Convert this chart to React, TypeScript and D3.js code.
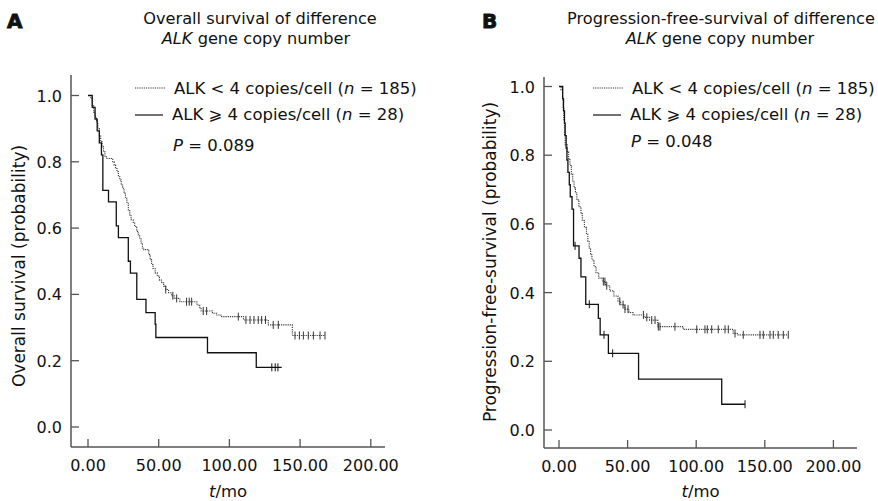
import * as d3 from "d3";

const xTicks = [0, 50, 100, 150, 200];
const yTicks = [0, 0.2, 0.4, 0.6, 0.8, 1.0];

// A: overall survival, ALK < 4 copies/cell (n = 185)
const osLowTime = [0, 2, 3, 4, 5, 6, 7, 8, 9, 10, 11, 12, 13, 17.5, 18.5, 19.5, 20.5, 21.5, 22.5, 23.5, 24.5, 25.5, 26.5, 27.5, 28.5, 29.5, 30.5, 32, 33, 34.5, 35.5, 36.5, 37.5, 38.5, 39.5, 43, 44, 45, 46, 47.5, 49, 50.5, 52, 53.5, 55, 57, 59, 61, 65, 77, 79, 80, 88, 91, 94, 110, 127.5, 144.5];
const osLowSurv = [1, 0.99, 0.97, 0.95, 0.935, 0.92, 0.9, 0.88, 0.86, 0.845, 0.83, 0.815, 0.81, 0.8, 0.79, 0.78, 0.77, 0.755, 0.745, 0.73, 0.72, 0.705, 0.69, 0.675, 0.655, 0.64, 0.625, 0.615, 0.605, 0.59, 0.58, 0.57, 0.555, 0.54, 0.535, 0.52, 0.505, 0.49, 0.478, 0.465, 0.455, 0.443, 0.435, 0.425, 0.415, 0.405, 0.396, 0.388, 0.378, 0.368, 0.36, 0.35, 0.343, 0.338, 0.333, 0.323, 0.308, 0.276];
const osLowEnd = 167.6;
const osLowCensor = [55, 60, 62.7, 69.7, 71.6, 73.3, 81.5, 83.9, 106.3, 111.7, 114.6, 117.4, 120.4, 122.8, 125.5, 131, 134.6, 146.4, 149.5, 152.3, 155.8, 159.4, 164.1, 167.6];

// A: overall survival, ALK >= 4 copies/cell (n = 28)
const osHighTime = [0, 3, 5, 6.5, 8, 9.5, 10.5, 14.5, 20, 21.5, 28.5, 30, 34.5, 41, 47.5, 48, 84.5, 119];
const osHighSurv = [1, 0.964, 0.929, 0.893, 0.857, 0.821, 0.714, 0.679, 0.607, 0.571, 0.5, 0.464, 0.385, 0.345, 0.31, 0.27, 0.224, 0.18];
const osHighEnd = 137;
const osHighCensor = [130, 132.4, 134.3];

// B: progression-free survival, ALK < 4 copies/cell (n = 185)
const pfsLowTime = [0, 1.5, 2.5, 3, 3.5, 4, 4.5, 6, 7, 8, 9, 10, 11, 12, 13, 14.5, 16, 17, 18.5, 20, 21, 22, 23, 24, 25.5, 27, 29, 32, 34, 37, 40, 43, 45, 48, 51, 54, 62, 66, 72, 90.5, 127, 130];
const pfsLowSurv = [1, 0.99, 0.97, 0.94, 0.9, 0.86, 0.83, 0.81, 0.79, 0.77, 0.745, 0.725, 0.705, 0.69, 0.67, 0.65, 0.63, 0.61, 0.59, 0.57, 0.55, 0.53, 0.51, 0.495, 0.476, 0.458, 0.442, 0.432, 0.42, 0.405, 0.39, 0.375, 0.365, 0.352, 0.342, 0.335, 0.328, 0.32, 0.301, 0.293, 0.281, 0.277];
const pfsLowEnd = 167.1;
const pfsLowCensor = [32.3, 33.5, 34.8, 44.3, 46.7, 48.1, 50.3, 61.5, 64, 67.6, 70, 72.4, 73.6, 84.5, 100.4, 106.4, 108.1, 111.3, 116.1, 121, 123.4, 128.3, 134.3, 146.5, 148.9, 153.8, 156.2, 159.8, 163.5, 167.1];

// B: progression-free survival, ALK >= 4 copies/cell (n = 28)
const pfsHighTime = [0, 2.7, 3.3, 4, 4.5, 5.2, 5.8, 6.5, 7.5, 8.2, 9.5, 10.6, 14.6, 16, 19.5, 28.7, 30, 36, 58, 118.6];
const pfsHighSurv = [1, 0.964, 0.929, 0.893, 0.857, 0.821, 0.786, 0.75, 0.714, 0.679, 0.643, 0.536, 0.5, 0.446, 0.366, 0.325, 0.277, 0.223, 0.148, 0.075];
const pfsHighEnd = 135.6;
const pfsHighCensor = [11.7, 22.1, 32.8, 39.1, 135.6];

const font = "'DejaVu Sans', Verdana, sans-serif";

type Curve = { time: number[]; surv: number[]; end: number; censor: number[] };

const survAt = (c: Curve, t: number) => {
  const i = d3.bisectRight(c.time, t) - 1;
  return c.surv[Math.max(0, i)];
};

function Panel(props: any) {
  const { letter, letterX, title, titleX, titleAnchor, subX, yLabel, yLabelX, yLabelY, pText, legendX,
    axisLeft, axisRight, axisTop, axisBottom, xRange, yRange, low, high } = props;
  const x = d3.scaleLinear().domain([0, 200]).range(xRange);
  const y = d3.scaleLinear().domain([0, 1]).range(yRange);

  const line = d3.line<[number, number]>()
    .x(d => x(d[0]))
    .y(d => y(d[1]))
    .curve(d3.curveStepAfter);

  const pts = (c: Curve): [number, number][] => {
    const p = c.time.map((t, i) => [t, c.surv[i]] as [number, number]);
    p.push([c.end, c.surv[c.surv.length - 1]]);
    return p;
  };

  const marks = (c: Curve, color: string) =>
    c.censor.map((t, i) => (
      <line key={i} x1={x(t)} x2={x(t)} y1={y(survAt(c, t)) - 4} y2={y(survAt(c, t)) + 4}
        stroke={color} strokeWidth={1} />
    ));

  return (
    <g fontFamily={font} fill="#111">
      <text x={letterX} y={28} fontSize={20} fontWeight="bold" stroke="#111" strokeWidth={0.9}>{letter}</text>
      <text x={titleX} y={24} fontSize={16.2} textAnchor={titleAnchor}>{title}</text>
      <text x={subX} y={44} fontSize={16.2} textAnchor="middle">
        <tspan fontStyle="italic">ALK</tspan> gene copy number
      </text>

      {/* axes */}
      <line x1={axisLeft} x2={axisLeft} y1={axisTop} y2={axisBottom} stroke="#555" strokeWidth={1.5} />
      <line x1={axisLeft} x2={axisRight} y1={axisBottom} y2={axisBottom} stroke="#555" strokeWidth={1.5} />
      {yTicks.map(v => (
        <g key={v}>
          <line x1={axisLeft} x2={axisLeft + 8} y1={y(v)} y2={y(v)} stroke="#555" strokeWidth={1.3} />
          <text x={axisLeft - 9} y={y(v) + 6} fontSize={16} textAnchor="end">{v.toFixed(1)}</text>
        </g>
      ))}
      {xTicks.map(v => (
        <g key={v}>
          <line x1={x(v)} x2={x(v)} y1={axisBottom} y2={axisBottom - 8} stroke="#555" strokeWidth={1.3} />
          <text x={x(v)} y={axisBottom + 24} fontSize={16} textAnchor="middle">{v.toFixed(2)}</text>
        </g>
      ))}
      <text x={(axisLeft + axisRight) / 2} y={497} fontSize={16.5} textAnchor="middle">
        <tspan fontStyle="italic">t</tspan>/mo
      </text>
      <text transform={`translate(${yLabelX},${yLabelY}) rotate(-90)`} fontSize={17} textAnchor="middle">{yLabel}</text>

      {/* curves */}
      <path d={line(pts(low)) || ""} fill="none" stroke="#3a3a3a" strokeWidth={1.1} strokeDasharray="1.2 1" />
      {marks(low, "#333")}
      <path d={line(pts(high)) || ""} fill="none" stroke="#111" strokeWidth={1.3} />
      {marks(high, "#111")}

      {/* legend */}
      <line x1={legendX} x2={legendX + 30} y1={88} y2={88} stroke="#3a3a3a" strokeWidth={1.1} strokeDasharray="1.2 1" />
      <text x={legendX + 39} y={94} fontSize={16.5}>ALK &lt; 4 copies/cell (<tspan fontStyle="italic">n</tspan> = 185)</text>
      <line x1={legendX} x2={legendX + 28} y1={115} y2={115} stroke="#111" strokeWidth={1.2} />
      <text x={legendX + 37} y={120} fontSize={16.5}>ALK ⩾ 4 copies/cell (<tspan fontStyle="italic">n</tspan> = 28)</text>
      <text x={legendX + 38} y={pText.y} fontSize={16.5}><tspan fontStyle="italic">P</tspan> = {pText.v}</text>
    </g>
  );
}

export default function App() {
  return (
    <svg width={878} height={501} style={{ display: "block", position: "absolute", left: 0, top: 0, background: "#fff" }}>
      <Panel
        letter="A" letterX={7}
        title="Overall survival of difference" titleX={260} titleAnchor="middle" subX={256}
        yLabel="Overall survival (probability)" yLabelX={25} yLabelY={266}
        pText={{ y: 151, v: "0.089" }} legendX={135}
        axisLeft={71} axisRight={385} axisTop={75} axisBottom={447}
        xRange={[88, 370.8]} yRange={[427, 95.5]}
        low={{ time: osLowTime, surv: osLowSurv, end: osLowEnd, censor: osLowCensor }}
        high={{ time: osHighTime, surv: osHighSurv, end: osHighEnd, censor: osHighCensor }}
      />
      <Panel
        letter="B" letterX={482}
        title="Progression-free-survival of difference" titleX={567} titleAnchor="start" subX={720}
        yLabel="Progression-free-survival (probability)" yLabelX={496} yLabelY={262}
        pText={{ y: 147, v: "0.048" }} legendX={593}
        axisLeft={544} axisRight={857} axisTop={77} axisBottom={448}
        xRange={[559, 833.4]} yRange={[430, 86.5]}
        low={{ time: pfsLowTime, surv: pfsLowSurv, end: pfsLowEnd, censor: pfsLowCensor }}
        high={{ time: pfsHighTime, surv: pfsHighSurv, end: pfsHighEnd, censor: pfsHighCensor }}
      />
    </svg>
  );
}
